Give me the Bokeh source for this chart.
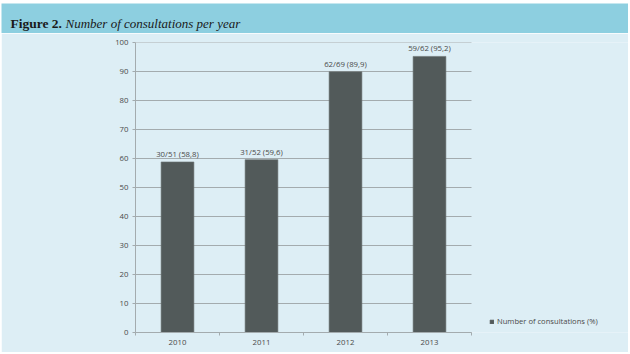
from bokeh.plotting import figure
from bokeh.models import ColumnDataSource, FixedTicker, Legend, LegendItem, Range1d
from bokeh.core.properties import value
from bokeh.embed import file_html
from bokeh.resources import INLINE

years = ["2010", "2011", "2012", "2013"]
pct = [58.8, 59.6, 89.9, 95.2]
bar_labels = ["30/51 (58,8)", "31/52 (59,6)", "62/69 (89,9)", "59/62 (95,2)"]
y_ticks = [0, 10, 20, 30, 40, 50, 60, 70, 80, 90, 100]
series_name = "Number of consultations (%)"
fig_label = "Figure 2."
fig_title = "Number of consultations per year"

BG = "#DDEEF5"
BAR = "#525A5A"
TITLE_BG = "#8DCFE0"
GRID = "#A3ABAE"
TXT = "#4a4a4a"
FS = "7.8px"

# ---- title bar ----
t = figure(width=627, height=30, output_backend="svg", toolbar_location=None,
           x_range=Range1d(0, 627), y_range=Range1d(0, 30),
           min_border=0, min_border_left=0, min_border_right=0,
           min_border_top=0, min_border_bottom=0, margin=(3, 0, 0, 1))
t.axis.visible = False
t.grid.visible = False
t.outline_line_color = None
t.background_fill_color = TITLE_BG
t.border_fill_color = TITLE_BG
t.text(x=[9], y=[10], text=[fig_label], text_font=value("Liberation Serif"),
       text_font_style="bold", text_font_size="13.5px", text_color="#1a1a1a",
       text_baseline="alphabetic")
t.text(x=[64], y=[10], text=[fig_title], text_font=value("Liberation Serif"),
       text_font_style="italic", text_font_size="13px", text_color="#1a1a1a",
       text_baseline="alphabetic")

# ---- chart ----
FIG_W, LEFT = 627, 134
PLOT_W = 336                      # pixel width of the category area
frame_w = FIG_W - LEFT
n = len(years)
xs = [i + 0.5 for i in range(n)]
src = ColumnDataSource(dict(x=xs, top=pct, lab=bar_labels))
gsrc = ColumnDataSource(dict(y=y_ticks, x0=[0] * len(y_ticks), x1=[n] * len(y_ticks)))

p = figure(width=FIG_W, height=319, output_backend="svg", toolbar_location=None,
           x_range=Range1d(0, n * frame_w / PLOT_W), y_range=Range1d(0, 100),
           min_border_left=LEFT, min_border_right=0, min_border_top=9,
           min_border_bottom=20, margin=(0, 0, 0, 1))
p.background_fill_color = BG
p.border_fill_color = BG
p.outline_line_color = None
p.xgrid.visible = False
p.ygrid.visible = False

p.segment(x0="x0", x1="x1", y0="y", y1="y", source=gsrc, line_color=GRID,
          line_width=1)
r = p.vbar(x="x", top="top", width=0.39, source=src, fill_color=BAR,
           line_color="#6a7070", line_width=0.6)
p.text(x="x", y="top", text="lab", source=src, text_align="center",
       text_baseline="bottom", y_offset=-3, text_font=value("Open Sans"),
       text_font_size=FS, text_color=TXT)

# axes
p.xaxis.bounds = (0, n)
p.xaxis.ticker = FixedTicker(ticks=xs, minor_ticks=list(range(n + 1)))
p.xaxis.major_label_overrides = {x: y for x, y in zip(xs, years)}
p.xaxis.major_tick_out = 0
p.xaxis.major_tick_in = 0
p.xaxis.minor_tick_out = 3
p.xaxis.minor_tick_in = 0
p.xaxis.minor_tick_line_color = GRID
p.xaxis.axis_line_color = GRID
p.xaxis.major_label_standoff = 4
p.xaxis.major_label_text_font = "Open Sans"
p.xaxis.major_label_text_font_size = FS
p.xaxis.major_label_text_color = TXT

p.yaxis.ticker = FixedTicker(ticks=y_ticks)
p.yaxis.major_tick_out = 3
p.yaxis.major_tick_in = 0
p.yaxis.minor_tick_out = 0
p.yaxis.minor_tick_in = 0
p.yaxis.major_tick_line_color = GRID
p.yaxis.axis_line_color = GRID
p.yaxis.major_label_standoff = 4
p.yaxis.major_label_text_font = "Open Sans"
p.yaxis.major_label_text_font_size = FS
p.yaxis.major_label_text_color = TXT

legend = Legend(items=[LegendItem(label=series_name, renderers=[r])],
                location=(354, 6), background_fill_alpha=0,
                border_line_color=None, glyph_width=5, glyph_height=5,
                label_standoff=3, padding=2, margin=0, spacing=0,
                label_text_font="Open Sans", label_text_font_size="7.6px",
                label_text_color=TXT, label_height=6)
p.add_layout(legend, "center")

open("out.html", "w").write(file_html([t, p], INLINE))
